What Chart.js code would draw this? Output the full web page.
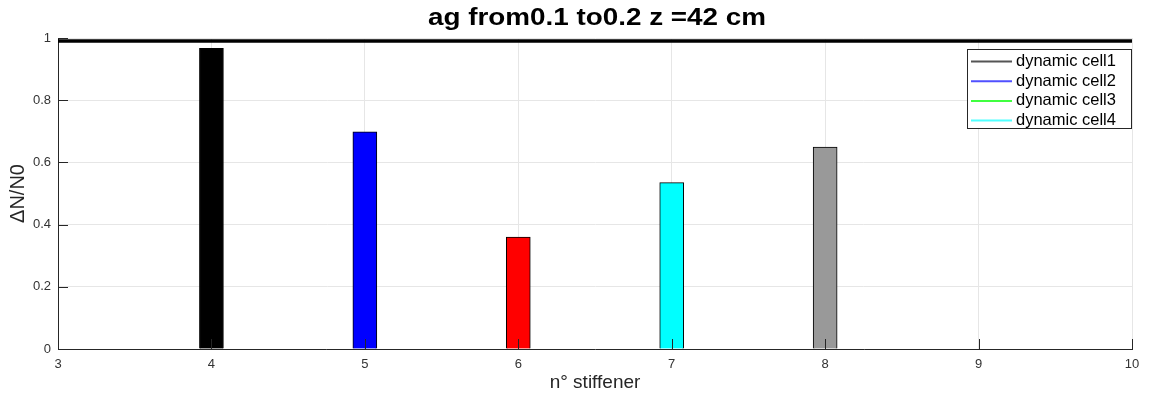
<!DOCTYPE html>
<html>
<head>
<meta charset="utf-8">
<script src="https://cdn.jsdelivr.net/npm/chart.js@4"></script>
<style>
  body { margin: 0; background: #fff; }
  #wrap { width: 1150px; height: 403px; }
</style>
</head>
<body>
<div id="wrap"><canvas id="myChart" width="1150" height="403"></canvas></div>
<script>
// data
const stiffeners = [4, 5, 6, 7, 8]
const deltaN = [0.967, 0.698, 0.360, 0.535, 0.649]
const barColors = ['#000000', '#0000ff', '#ff0000', '#00ffff', '#999999']
const refX = [3, 10]
const refY = [0.99, 0.99]
const legendLabels = ['dynamic cell1', 'dynamic cell2', 'dynamic cell3', 'dynamic cell4']
const legendColors = ['#555555', '#5050ff', '#40ff40', '#50ffff']
const xTicks = [3, 4, 5, 6, 7, 8, 9, 10]
const yTicks = [0, 0.2, 0.4, 0.6, 0.8, 1]
const titleText = 'ag from0.1 to0.2 z =42 cm'

const ctx = document.getElementById('myChart')
const axisColor = '#262626'
const gridColor = '#e6e6e6'
const fam = '"Liberation Sans", Arial, sans-serif'

// MATLAB style ticks pointing into the plot
const innerTicks = {
    id: 'innerTicks',
    afterDatasetsDraw(chart) {
        const c = chart.ctx
        const a = chart.chartArea
        const xs = chart.scales.x, ys = chart.scales.y
        c.save()
        c.strokeStyle = axisColor
        c.lineWidth = 1
        c.beginPath()
        yTicks.forEach(v => {
            const y = Math.round(ys.getPixelForValue(v)) + 0.5
            c.moveTo(a.left, y); c.lineTo(a.left + 10, y)
        })
        xTicks.forEach(v => {
            const x = Math.round(xs.getPixelForValue(v)) + 0.5
            c.moveTo(x, a.bottom); c.lineTo(x, a.bottom - 10)
        })
        c.stroke()
        c.restore()
    }
}

// title centred over the axes, boxed legend top right
const extras = {
    id: 'extras',
    afterDraw(chart) {
        const c = chart.ctx
        const a = chart.chartArea
        c.save()
        c.font = 'bold 23.5px ' + fam
        c.fillStyle = '#000'
        c.textAlign = 'center'
        c.textBaseline = 'alphabetic'
        const tw = c.measureText(titleText).width
        const sx = 338 / tw
        c.translate((a.left + a.right) / 2 + 2, 25)
        c.scale(sx, 1)
        c.fillText(titleText, 0, 0)
        c.setTransform(1, 0, 0, 1, 0, 0)

        const w = 164, h = 79
        const x0 = a.right - w - 1, y0 = 49
        c.fillStyle = '#fff'
        c.fillRect(x0, y0, w, h)
        c.strokeStyle = '#262626'
        c.lineWidth = 1
        c.strokeRect(x0 + 0.5, y0 + 0.5, w, h)
        c.font = '16.5px ' + fam
        c.textAlign = 'left'
        c.textBaseline = 'middle'
        legendLabels.forEach((lab, i) => {
            const y = y0 + 12.5 + i * 19.7
            c.strokeStyle = legendColors[i]
            c.lineWidth = 2
            c.beginPath()
            c.moveTo(x0 + 4, y); c.lineTo(x0 + 45, y)
            c.stroke()
            c.fillStyle = '#000'
            c.fillText(lab, x0 + 49, y)
        })
        c.restore()
    }
}

const config = {
    data: {
        datasets: [
            {
                type: 'line',
                label: 'ref',
                data: refX.map((x, i) => ({x: x, y: refY[i]})),
                borderColor: '#000',
                borderWidth: 3.5,
                pointRadius: 0,
                order: 0
            },
            {
                type: 'bar',
                label: 'bars',
                data: stiffeners.map((s, i) => ({x: s, y: deltaN[i]})),
                backgroundColor: barColors,
                borderColor: '#000',
                borderWidth: 1,
                barThickness: 24,
                order: 1
            }
        ]
    },
    options: {
        responsive: false,
        animation: false,
        layout: { padding: { left: 0, right: 18, top: 38, bottom: 0 } },
        scales: {
            x: {
                type: 'linear',
                min: 3, max: 10,
                offset: false,
                afterBuildTicks(scale) { scale.ticks = xTicks.map(v => ({value: v})) },
                grid: { color: gridColor, drawTicks: false, offset: false },
                border: { color: axisColor, width: 1 },
                ticks: { autoSkip: false, padding: 8, color: '#333', font: { size: 13, family: fam } },
                title: { display: true, text: 'n° stiffener', color: '#262626', padding: { top: 0, bottom: 9 }, font: { size: 19, family: fam } },
                afterFit(scale) { scale.height = 54 }
            },
            y: {
                min: 0, max: 1,
                afterBuildTicks(scale) { scale.ticks = yTicks.map(v => ({value: v})) },
                grid: { color: gridColor, drawTicks: false },
                border: { color: axisColor, width: 1 },
                ticks: { autoSkip: false, padding: 7, color: '#333', font: { size: 13, family: fam }, callback: v => String(Math.round(v * 10) / 10) },
                title: { display: true, text: 'ΔN/N0', color: '#262626', padding: { top: 6, bottom: 0 }, font: { size: 20, family: fam } },
                afterFit(scale) { scale.width = 58 }
            }
        },
        plugins: {
            legend: { display: false },
            tooltip: { enabled: false },
            title: { display: false }
        }
    },
    plugins: [innerTicks, extras]
}
const charts = new Chart(ctx, config)
</script>
</body>
</html>
